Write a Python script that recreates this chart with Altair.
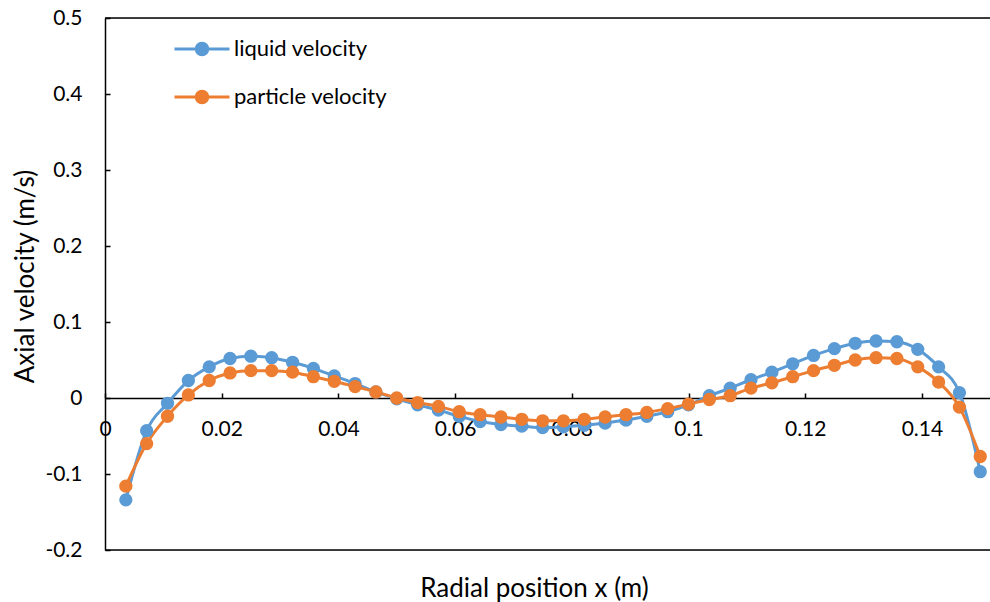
import altair as alt
import pandas as pd

# ---- data ----
radial_x = [0.00357, 0.00714, 0.01071, 0.01429, 0.01786, 0.02143, 0.025, 0.02857,
            0.03214, 0.03571, 0.03929, 0.04286, 0.04643, 0.05, 0.05357, 0.05714,
            0.06071, 0.06429, 0.06786, 0.07143, 0.075, 0.07857, 0.08214, 0.08571,
            0.08929, 0.09286, 0.09643, 0.1, 0.10357, 0.10714, 0.11071, 0.11429,
            0.11786, 0.12143, 0.125, 0.12857, 0.13214, 0.13571, 0.13929, 0.14286,
            0.14643, 0.15]
liquid_velocity = [-0.134, -0.043, -0.007, 0.023, 0.041, 0.052, 0.055, 0.053, 0.047,
                   0.039, 0.029, 0.019, 0.008, -0.001, -0.009, -0.016, -0.024, -0.031,
                   -0.035, -0.037, -0.039, -0.038, -0.036, -0.033, -0.029, -0.024,
                   -0.018, -0.009, 0.003, 0.013, 0.024, 0.034, 0.045, 0.056, 0.065,
                   0.072, 0.075, 0.074, 0.064, 0.041, 0.007, -0.097]
particle_velocity = [-0.116, -0.060, -0.024, 0.004, 0.023, 0.033, 0.036, 0.036, 0.034,
                     0.028, 0.022, 0.015, 0.008, 0.000, -0.006, -0.011, -0.018, -0.022,
                     -0.025, -0.028, -0.030, -0.030, -0.028, -0.025, -0.022, -0.019,
                     -0.014, -0.008, -0.002, 0.003, 0.013, 0.020, 0.028, 0.036, 0.043,
                     0.050, 0.053, 0.052, 0.041, 0.021, -0.012, -0.077]
series_names = ["liquid velocity", "particle velocity"]
series_colors = ["#5B9BD5", "#ED7D31"]
x_ticks = [0, 0.02, 0.04, 0.06, 0.08, 0.1, 0.12, 0.14]
y_ticks = [-0.2, -0.1, 0, 0.1, 0.2, 0.3, 0.4, 0.5]
frame_y = [0.5, -0.2]

rows = []
for name, vals in zip(series_names, [liquid_velocity, particle_velocity]):
    for xv, v in zip(radial_x, vals):
        rows.append({"x": xv, "v": v, "series": name})
df = pd.DataFrame(rows)
frame_df = pd.DataFrame({"fy": frame_y})

FONT = "Lato"
W, H = 885, 532
x_scale = alt.Scale(domain=[0, 0.15167], nice=False, zero=False)
y_scale = alt.Scale(domain=[-0.2, 0.5], nice=False)
c_scale = alt.Scale(domain=series_names, range=series_colors)


def ring(r):
    return (f"M{-r},0A{r},{r} 0 1,1 {r},0A{r},{r} 0 1,1 {-r},0Z")


# line through a solid dot built from concentric stroked rings
sym_path = "M-1,0L1,0" + ring(0.055) + ring(0.14) + ring(0.21)

legend_cfg = dict(
    title=None, orient="none", legendX=68, legendY=2,
    symbolType=sym_path, symbolSize=3025, symbolStrokeWidth=3,
    labelFont=FONT, labelFontSize=22, labelColor="black",
    labelOffset=3, rowPadding=7,
)

x_axis_main = alt.Axis(
    orient="bottom", offset=-152, values=x_ticks, format="~g", ticks=False, tickSize=0,
    grid=False, domain=True, domainColor="black", domainWidth=1.5, labelFlush=False,
    labelFont=FONT, labelFontSize=21, labelColor="black", labelPadding=20,
    labelBaseline="top",
    title="Radial position x (m)", titleFont=FONT, titleFontSize=26,
    titleFontWeight="normal", titleColor="black",
    titleX=429, titleY=190, titleAlign="center", titleBaseline="middle",
)
x_axis_ticks = alt.Axis(
    orient="top", offset=-380, values=x_ticks, labels=False, domain=False,
    ticks=True, tickSize=5, tickColor="black", tickWidth=1.5, grid=False, title=None,
)
y_axis_main = alt.Axis(
    orient="left", values=y_ticks, ticks=False, tickSize=0, grid=False,
    domain=True, domainColor="black", domainWidth=1.5, labelFlush=False,
    labelFont=FONT, labelFontSize=21, labelColor="black", labelPadding=23,
    labelExpr="replace(format(datum.value, '~g'), '\u2212', '-')",
    title="Axial velocity (m/s)", titleFont=FONT, titleFontSize=26,
    titleFontWeight="normal", titleColor="black",
    titleX=-80, titleY=258, titleAngle=270, titleAlign="center", titleBaseline="middle",
)
y_axis_ticks = alt.Axis(
    orient="right", offset=-W, values=y_ticks, labels=False, domain=False,
    ticks=True, tickSize=5, tickColor="black", tickWidth=1.5, grid=False, title=None,
)

points = alt.Chart(df).mark_circle(size=177, opacity=1).encode(
    x=alt.X("x:Q", scale=x_scale, axis=x_axis_ticks),
    y=alt.Y("v:Q", scale=y_scale, axis=y_axis_ticks),
    color=alt.Color("series:N", scale=c_scale, legend=alt.Legend(**legend_cfg)),
)
lines = alt.Chart(df).mark_line(strokeWidth=3, interpolate="monotone").encode(
    x=alt.X("x:Q", scale=x_scale, axis=x_axis_main),
    y=alt.Y("v:Q", scale=y_scale, axis=y_axis_main),
    color=alt.Color("series:N", scale=c_scale, legend=alt.Legend(**legend_cfg)),
)
frame = alt.Chart(frame_df).mark_rule(color="black", strokeWidth=1.5).encode(
    y=alt.Y("fy:Q", scale=y_scale, axis=None),
)

chart = alt.layer(frame, lines, points).resolve_axis(
    x="independent", y="independent"
).properties(
    width=W, height=H,
    autosize=alt.AutoSizeParams(type="none"),
    padding={"left": 105, "top": 18, "right": 0, "bottom": 52},
).configure_view(stroke=None).configure(background="white")

chart.save("out.html", embed_options={"renderer": "svg", "actions": False})
